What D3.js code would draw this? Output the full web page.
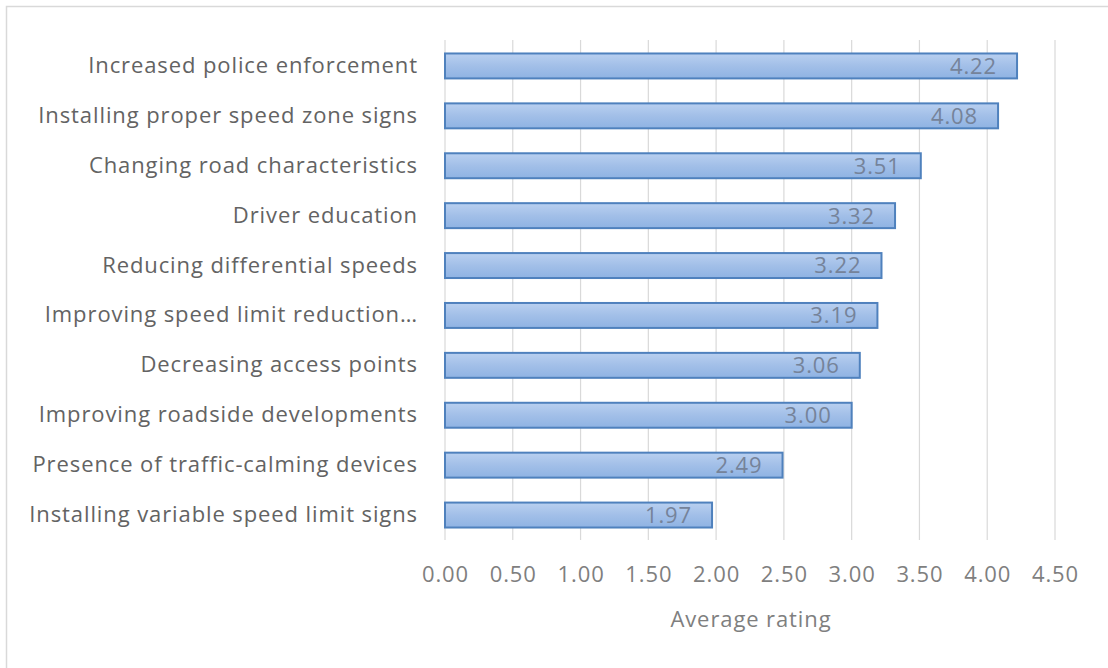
<!DOCTYPE html>
<html><head><meta charset="utf-8">
<script src="https://cdn.jsdelivr.net/npm/d3@7"></script>
<style>body{margin:0;background:#fff;} svg{display:block;}</style>
</head><body>
<svg id="chart" width="1108" height="668"></svg>
<script>
const categories = ["Increased police enforcement","Installing proper speed zone signs","Changing road characteristics","Driver education","Reducing differential speeds","Improving speed limit reduction\u2026","Decreasing access points","Improving roadside developments","Presence of traffic-calming devices","Installing variable speed limit signs"];
const values = [4.22,4.08,3.51,3.32,3.22,3.19,3.06,3.00,2.49,1.97];
const ticks = [0,0.5,1,1.5,2,2.5,3,3.5,4,4.5];
const axisTitle = "Average rating";

const svg = d3.select("#chart");
const font = "'Open Sans', 'Noto Sans', sans-serif";
const fs = 22, ls = "0.9px";
svg.append("rect").attr("x",6.5).attr("y",6.5).attr("width",1120).attr("height",680)
  .attr("fill","#fff").attr("stroke","#d9d9d9").attr("stroke-width",1.5);

const x = d3.scaleLinear().domain([0,4.5]).range([445,1055]);
const y = d3.scaleBand().domain(categories).range([41,540]).paddingInner(0.5).paddingOuter(0.25);

const defs = svg.append("defs");
const g = defs.append("linearGradient").attr("id","bg").attr("x1",0).attr("y1",0).attr("x2",0).attr("y2",1);
g.append("stop").attr("offset","0%").attr("stop-color","#b9d0f0");
g.append("stop").attr("offset","50%").attr("stop-color","#a2bfe8");
g.append("stop").attr("offset","100%").attr("stop-color","#8fb3e3");

// gridlines
svg.append("g").selectAll("line").data(ticks).join("line")
  .attr("x1",d=>x(d)).attr("x2",d=>x(d)).attr("y1",40).attr("y2",540)
  .attr("stroke","#d9d9d9").attr("stroke-width",1.2);

// axis tick labels
const ax = svg.append("g").attr("transform","translate(0,566)")
  .call(d3.axisBottom(x).tickValues(ticks).tickFormat(d3.format(".2f")).tickSize(0));
ax.select(".domain").remove();
ax.selectAll("text").attr("font-family",font).attr("font-size",fs).attr("letter-spacing",ls)
  .attr("fill","#7f7f7f").attr("dy","0.6em");

// bars
svg.append("g").selectAll("rect").data(values).join("rect")
  .attr("x",x(0)).attr("y",(d,i)=>y(categories[i]))
  .attr("width",d=>x(d)-x(0)).attr("height",y.bandwidth())
  .attr("fill","url(#bg)").attr("stroke","#4f81bd").attr("stroke-width",2);

// value labels
svg.append("g").selectAll("text").data(values).join("text")
  .attr("x",d=>x(d)-20).attr("y",(d,i)=>y(categories[i])+y.bandwidth()/2)
  .attr("dy","0.36em").attr("text-anchor","end")
  .attr("font-family",font).attr("font-size",fs).attr("letter-spacing",ls).attr("fill","#75839a")
  .text(d=>d3.format(".2f")(d));

// category labels
const ay = svg.append("g").attr("transform","translate(418,0)")
  .call(d3.axisLeft(y).tickSize(0).tickPadding(0));
ay.select(".domain").remove();
ay.selectAll("text").attr("font-family",font).attr("font-size",fs).attr("letter-spacing",ls).attr("fill","#636363");

svg.append("text").attr("x",751).attr("y",627).attr("text-anchor","middle")
  .attr("font-family",font).attr("font-size",fs).attr("letter-spacing",ls).attr("fill","#7f7f7f").text(axisTitle);
</script>
</body></html>
